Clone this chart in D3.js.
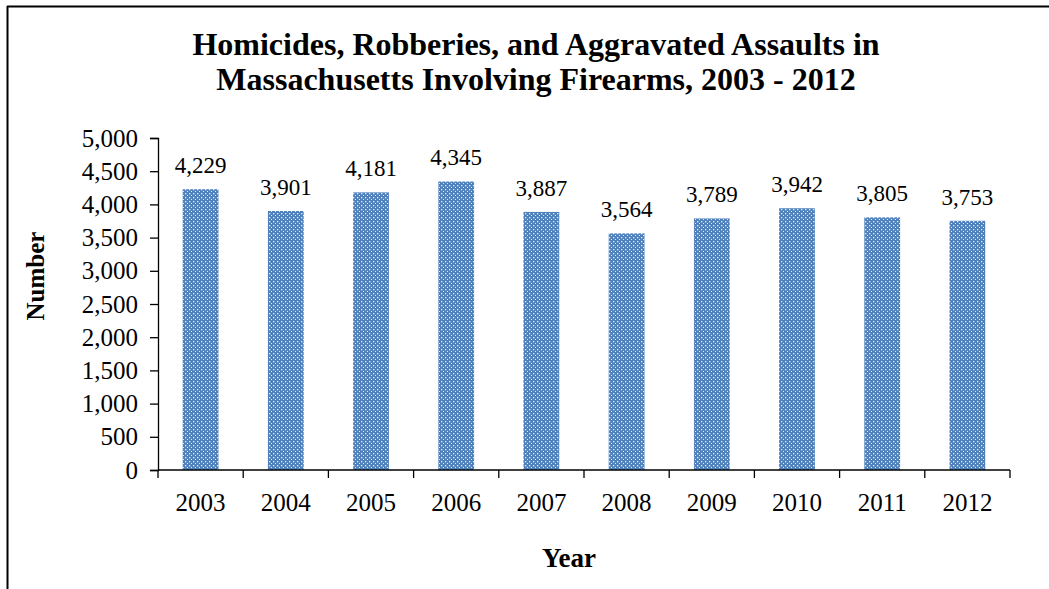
<!DOCTYPE html>
<html>
<head>
<meta charset="utf-8">
<script src="https://cdn.jsdelivr.net/npm/d3@7"></script>
<style>
  html, body { margin: 0; padding: 0; background: #fff; }
  svg { display: block; }
  text { font-family: "Liberation Serif", "Times New Roman", serif; fill: #000; }
</style>
</head>
<body>
<svg id="chart" width="1049" height="589"></svg>
<script>
// Firearm-involved homicides, robberies and aggravated assaults, Massachusetts
const years = ["2003", "2004", "2005", "2006", "2007", "2008", "2009", "2010", "2011", "2012"];
const counts = [4229, 3901, 4181, 4345, 3887, 3564, 3789, 3942, 3805, 3753];
const yTicks = [0, 500, 1000, 1500, 2000, 2500, 3000, 3500, 4000, 4500, 5000];
const titleLines = [
  "Homicides, Robberies, and Aggravated Assaults in",
  "Massachusetts Involving Firearms, 2003 - 2012"
];

const svg = d3.select("#chart");
const fmt = d3.format(",");

// Dotted fill for the bars
const defs = svg.append("defs");
const pat = defs.append("pattern")
  .attr("id", "dots")
  .attr("patternUnits", "userSpaceOnUse")
  .attr("width", 4).attr("height", 4);
pat.append("rect").attr("width", 4).attr("height", 4).attr("fill", "#4f81bd");
pat.append("rect").attr("x", 1).attr("y", 1).attr("width", 1.3).attr("height", 1.3).attr("fill", "#e4ecf7");
pat.append("rect").attr("x", 3).attr("y", 3).attr("width", 1.3).attr("height", 1.3).attr("fill", "#e4ecf7");

// Outer frame (top and left edges)
svg.append("line").attr("x1", 7).attr("x2", 1049).attr("y1", 6.5).attr("y2", 6.5)
  .attr("stroke", "#000").attr("stroke-width", 2);
svg.append("line").attr("x1", 7.5).attr("x2", 7.5).attr("y1", 6).attr("y2", 589)
  .attr("stroke", "#000").attr("stroke-width", 2);

const plot = { left: 158, right: 1010, top: 138, bottom: 470 };

const x = d3.scaleBand().domain(years).range([plot.left, plot.right]).paddingInner(0).paddingOuter(0);
const y = d3.scaleLinear().domain([0, 5000]).range([plot.bottom, plot.top]);

// Title
svg.append("text")
  .attr("x", 536).attr("y", 55)
  .attr("text-anchor", "middle")
  .style("font-size", "32px").style("font-weight", "bold")
  .selectAll("tspan").data(titleLines).join("tspan")
  .attr("x", 536).attr("dy", (d, i) => i === 0 ? 0 : 35)
  .text(d => d);

// Bars
const barW = x.bandwidth() * 0.42;
svg.append("g").selectAll("rect").data(counts).join("rect")
  .attr("x", (d, i) => x(years[i]) + (x.bandwidth() - barW) / 2)
  .attr("y", d => y(d))
  .attr("width", barW)
  .attr("height", d => y(0) - y(d))
  .attr("fill", "url(#dots)");

// Y axis
const yAxis = d3.axisLeft(y).tickValues(yTicks).tickFormat(fmt).tickSize(8).tickPadding(12);
const gy = svg.append("g").attr("transform", `translate(${plot.left},0)`).call(yAxis);
gy.select(".domain").attr("stroke", "#000").attr("stroke-width", 1.3);
gy.selectAll(".tick line").attr("stroke", "#000").attr("stroke-width", 1.3);
gy.selectAll(".tick text")
  .style("font-size", "25px").style("font-family", "Liberation Serif, serif");

// X axis: ticks on the category boundaries
const gx = svg.append("g").attr("transform", `translate(0,${plot.bottom})`);
gx.append("line").attr("x1", plot.left).attr("x2", plot.right).attr("y1", 0).attr("y2", 0)
  .attr("stroke", "#000").attr("stroke-width", 1.3);
const bounds = years.map(d => x(d)).concat([plot.right]);
gx.selectAll("line.tk").data(bounds).join("line").attr("class", "tk")
  .attr("x1", d => d).attr("x2", d => d).attr("y1", 0).attr("y2", 8)
  .attr("stroke", "#000").attr("stroke-width", 1.3);
gx.selectAll("text").data(years).join("text")
  .attr("x", d => x(d) + x.bandwidth() / 2)
  .attr("y", 41)
  .attr("text-anchor", "middle")
  .style("font-size", "25px")
  .text(d => d);

// Value labels
svg.append("g").selectAll("text").data(counts).join("text")
  .attr("x", (d, i) => x(years[i]) + x.bandwidth() / 2)
  .attr("y", d => y(d) - 16)
  .attr("text-anchor", "middle")
  .style("font-size", "23px")
  .text(d => fmt(d));

// Axis titles
svg.append("text")
  .attr("transform", "translate(44,276) rotate(-90)")
  .attr("text-anchor", "middle")
  .style("font-size", "25px").style("font-weight", "bold")
  .text("Number");
svg.append("text")
  .attr("x", 569).attr("y", 567)
  .attr("text-anchor", "middle")
  .style("font-size", "27px").style("font-weight", "bold")
  .text("Year");
</script>
</body>
</html>
